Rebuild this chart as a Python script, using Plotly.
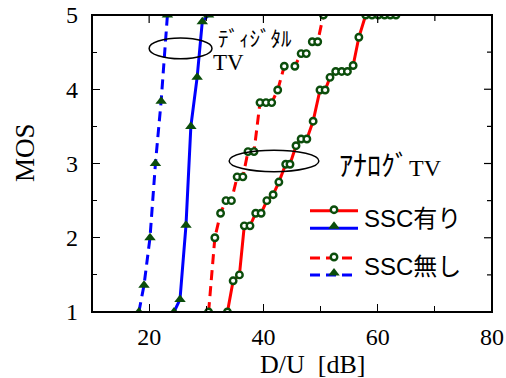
import plotly.graph_objects as go

# SSC有り (with SSC)
analog_ssc_x = [33.7, 34.7, 35.8, 36.65, 37.65, 38.65, 39.6, 40.6, 41.7, 42.7, 43.9, 44.65, 45.7,
                46.6, 47.6, 48.7, 49.9, 50.8, 51.65, 52.65, 53.7, 54.7, 55.7, 56.7, 57.9,
                59.0, 60.1, 61.2, 62.2, 63.2]
analog_ssc_y = [1.0, 1.42, 1.5, 2.16, 2.16, 2.33, 2.33, 2.5, 2.58, 2.75, 2.99, 2.99, 3.24,
                3.33, 3.33, 3.57, 3.99, 3.99, 4.16, 4.24, 4.24, 4.24, 4.32, 4.7, 5.0,
                5.0, 5.0, 5.0, 5.0, 5.0]
digital_ssc_x = [24.35, 25.4, 26.45, 27.3, 28.4, 29.3, 30.4]
digital_ssc_y = [1.0, 1.17, 2.17, 3.5, 4.16, 4.91, 5.0]

# SSC無し (without SSC)
analog_nossc_x = [30.4, 31.5, 32.5, 33.45, 34.4, 35.4, 36.4, 37.3, 38.35, 39.4, 40.45, 41.45,
                  42.5, 43.65, 45.5, 46.6, 47.5, 48.55, 49.5, 50.5]
analog_nossc_y = [1.0, 2.0, 2.33, 2.5, 2.5, 2.82, 2.82, 3.16, 3.16, 3.82, 3.82, 3.82,
                  3.99, 4.31, 4.31, 4.48, 4.48, 4.64, 4.64, 5.0]
digital_nossc_x = [18.2, 19.1, 20.15, 21.1, 22.1, 23.2]
digital_nossc_y = [1.0, 1.36, 2.0, 3.0, 3.84, 5.0]

x_ticks = [20, 40, 60, 80]
y_ticks = [1, 2, 3, 4, 5]
x_minor = [30, 50, 70]
y_minor = [1.5, 2.5, 3.5, 4.5]
X_RANGE = [10, 80]
Y_RANGE = [1, 5]

RED = "#ff0000"
BLUE = "#0000ff"
GREEN = "#0b4d0b"
DASH = "10px,6px"
SERIF = "Liberation Serif"
SANS = "Liberation Sans"
JP = "Noto Sans CJK JP"

circle = dict(symbol="circle", size=6.5, color="white", line=dict(color=GREEN, width=2.4))
tri = dict(symbol="triangle-up", size=10, color=GREEN, line=dict(color=GREEN, width=0))

fig = go.Figure()
fig.add_trace(go.Scatter(x=digital_nossc_x, y=digital_nossc_y, mode="lines+markers",
                         line=dict(color=BLUE, width=3, dash=DASH), marker=tri, showlegend=False))
fig.add_trace(go.Scatter(x=digital_ssc_x, y=digital_ssc_y, mode="lines+markers",
                         line=dict(color=BLUE, width=3), marker=tri, showlegend=False))
fig.add_trace(go.Scatter(x=analog_nossc_x, y=analog_nossc_y, mode="lines+markers",
                         line=dict(color=RED, width=3, dash=DASH), marker=circle, showlegend=False))
fig.add_trace(go.Scatter(x=analog_ssc_x, y=analog_ssc_y, mode="lines+markers",
                         line=dict(color=RED, width=3), marker=circle, showlegend=False))

W, H = 506, 378
L, R, T, B = 92, 14, 15, 66
pw, ph = W - L - R, H - T - B
def px(xp):
    return (xp - L) / pw
def py(yp):
    return 1 - (yp - T) / ph
def dx(xp):
    return X_RANGE[0] + px(xp) * (X_RANGE[1] - X_RANGE[0])
def dy(yp):
    return Y_RANGE[0] + py(yp) * (Y_RANGE[1] - Y_RANGE[0])

# hand-made legend (two line styles per entry, marker in the middle)
leg = [
    (RED, None, 210.7, circle),
    (BLUE, None, 228.3, tri),
    (RED, DASH, 258, circle),
    (BLUE, DASH, 275, tri),
]
for color, dash, ypix, mk in leg:
    fig.add_trace(go.Scatter(x=[dx(310), dx(358)], y=[dy(ypix), dy(ypix)], mode="lines",
                             line=dict(color=color, width=3, dash=dash if dash else "solid"),
                             showlegend=False, hoverinfo="skip"))
    fig.add_trace(go.Scatter(x=[dx(334)], y=[dy(ypix - (1 if mk is circle else 2))], mode="markers",
                             marker=mk, showlegend=False, hoverinfo="skip"))

def ann(xp, yp, text, family, size, anchor="left", angle=0):
    fig.add_annotation(x=px(xp), y=py(yp), xref="paper", yref="paper", text=text, showarrow=False,
                       xanchor=anchor, yanchor="middle", textangle=angle,
                       font=dict(family=family, size=size, color="black"))

ann(362, 218, "SSC有り", SANS + ", " + JP, 24)
ann(362, 266, "SSC無し", SANS + ", " + JP, 24)
ann(216, 37, "ﾃﾞｨｼﾞﾀﾙ", JP, 21)
ann(211, 62, "TV", SERIF, 23)
ann(337, 164, "<span style='font-family:Noto Sans CJK JP;font-size:28px'>ｱﾅﾛｸﾞ</span>TV", SERIF, 24)
ann(312, 364, "D/U\u00a0\u00a0[dB]", SERIF, 26, anchor="center")
ann(25, 153, "MOS", SERIF, 27, anchor="center", angle=-90)

# ellipses
fig.add_shape(type="circle", xref="x", yref="y", x0=20.0, x1=31.0, y0=4.41, y1=4.69,
              line=dict(color="black", width=1.5))
fig.add_shape(type="circle", xref="x", yref="y", x0=34.0, x1=49.7, y0=2.89, y1=3.18,
              line=dict(color="black", width=1.5))

# frame (top/right edges) and mirrored ticks
fig.add_shape(type="rect", xref="paper", yref="paper", x0=0, x1=1, y0=0, y1=1,
              line=dict(color="black", width=2), layer="above")
tick_dy = (Y_RANGE[1] - Y_RANGE[0]) / ph
tick_dx = (X_RANGE[1] - X_RANGE[0]) / pw
for v in x_ticks[:-1] + x_minor:
    ln = 8 if v in x_ticks else 6
    fig.add_shape(type="line", xref="x", yref="y", x0=v, x1=v, y0=Y_RANGE[1], y1=Y_RANGE[1] - ln * tick_dy,
                  line=dict(color="black", width=1.2), layer="above")
for v in y_ticks[1:-1] + y_minor:
    ln = 8 if v in y_ticks else 5
    fig.add_shape(type="line", xref="x", yref="y", x0=X_RANGE[1], x1=X_RANGE[1] - ln * tick_dx, y0=v, y1=v,
                  line=dict(color="black", width=1.2), layer="above")

axis_common = dict(showgrid=False, zeroline=False, showline=True, linecolor="black", linewidth=1.3,
                   ticks="inside", tickcolor="black", tickwidth=1.2, ticklen=8,
                   automargin=False, ticklabeloverflow="allow", fixedrange=True,
                   tickfont=dict(family=SERIF, size=24, color="black"))
fig.update_layout(
    width=W, height=H,
    margin=dict(l=L, r=R, t=T, b=B, autoexpand=False),
    paper_bgcolor="white", plot_bgcolor="white", showlegend=False,
    xaxis=dict(range=X_RANGE, tickvals=x_ticks, ticktext=[str(v) for v in x_ticks],
               minor=dict(tickvals=x_minor, ticks="inside", ticklen=6, tickcolor="black", tickwidth=1.2),
               ticklabelstandoff=3, **axis_common),
    yaxis=dict(range=Y_RANGE, tickvals=y_ticks, ticktext=[str(v) for v in y_ticks],
               minor=dict(tickvals=y_minor, ticks="inside", ticklen=5, tickcolor="black", tickwidth=1.2),
               ticklabelstandoff=8, **axis_common),
)

fig.write_html("out.html", config={"displayModeBar": False},
               post_script="document.body.style.margin='0px';")
